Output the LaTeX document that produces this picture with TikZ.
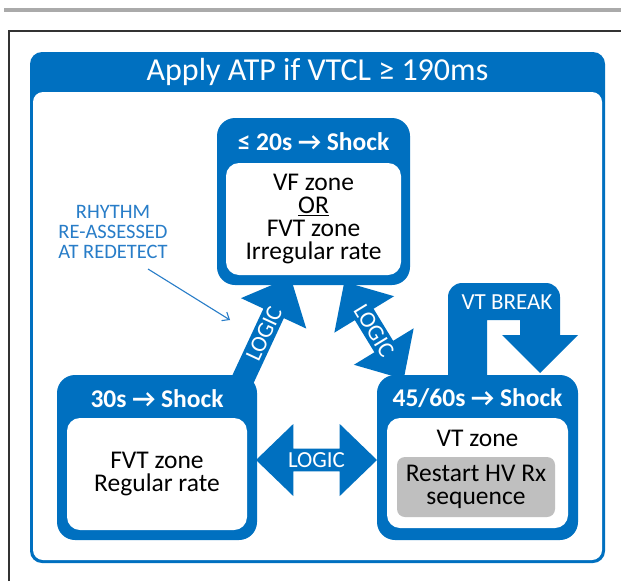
\documentclass[tikz,border=0pt]{standalone}
\usepackage{fontspec}
\setmainfont{Carlito}
\usetikzlibrary{arrows.meta, positioning, shapes.arrows, calc}

\definecolor{zoneblue}{RGB}{0,112,192}
\definecolor{noteblue}{RGB}{40,125,200}
\definecolor{restartgrey}{RGB}{191,191,191}
\definecolor{rulegrey}{RGB}{170,170,170}
\definecolor{framegrey}{RGB}{51,51,51}

\newcommand{\titlesize}{\fontsize{32}{34}\selectfont}
\newcommand{\zonesize}{\fontsize{25.5}{23}\selectfont}
\newcommand{\headsize}{\fontsize{25.5}{26}\selectfont\bfseries}
\newcommand{\logicsize}{\fontsize{23}{24}\selectfont}
\newcommand{\notesize}{\fontsize{20.5}{20}\selectfont}

\tikzset{
	zoneframe/.style={fill=zoneblue, rounded corners=18pt},
	zonebody/.style={fill=white, rounded corners=13pt, align=center, font=\zonesize},
	zonehead/.style={text=white, font=\headsize},
	logicarrow/.style={fill=zoneblue, text=white, font=\logicsize, inner sep=0pt},
	notearrow/.style={noteblue, line width=1.1pt, -{Straight Barb[length=6pt,width=10pt]}}
}

\begin{document}
\begin{tikzpicture}[x=1pt, y=-1pt, every node/.style={inner sep=0pt}]

	\useasboundingbox (0,0) rectangle (621,581);

	% page rule and frame
	\fill[rulegrey] (4,8) rectangle (621,12);
	\draw[framegrey, line width=1.4pt] (9,581) |- (621,31);

	% outer panel with title band
	\fill[zoneblue, rounded corners=12pt] (30,52) rectangle (605,563);
	\fill[white, rounded corners=10pt] (33,92) rectangle (602,560);
	\node[text=white, font=\titlesize] (title) at (317.5,72) {Apply ATP if VTCL ≥ 190ms};

	% VT break loop
	\fill[zoneblue] (448,380) [rounded corners=14pt] -- (448,283) -- (560,283) [sharp corners] -- (560,335)
		-- (578,335) -- (540,373) -- (502,335) -- (520,335) -- (520,320) -- (487,320) -- (487,380) -- cycle;
	\node[text=white, font=\logicsize] (vtbreak) at (507,302) {VT BREAK};

	% logic arrows
	\node[logicarrow, single arrow, minimum height=113pt, minimum width=72pt,
		single arrow head extend=17pt, single arrow tip angle=84, rotate=65] (logicup) at (264,334) {LOGIC};
	\node[logicarrow, double arrow, minimum height=114pt, minimum width=70pt,
		double arrow head extend=17pt, double arrow tip angle=85, rotate=-58.6] (logicdiag) at (374,330.5) {LOGIC};
	\node[logicarrow, double arrow, minimum height=121pt, minimum width=72pt,
		double arrow head extend=17pt, double arrow tip angle=88] (logicside) at (316.5,460) {LOGIC};

	% zones
	\node[zoneframe, minimum width=193pt, minimum height=167pt] (vfframe) at (313.5,201.5) {};
	\node[zonebody, minimum width=175pt, minimum height=112pt] (vfbody) at (313.5,219)
		{VF zone\\\underline{OR}\\FVT zone\\Irregular rate};
	\node[zonehead] (vfhead) at (313.5,142) {≤ 20s → Shock};

	\node[zoneframe, minimum width=200pt, minimum height=165pt] (fvtframe) at (157,457.5) {};
	\node[zonebody, minimum width=180pt, minimum height=112pt] (fvtbody) at (157,474)
		{FVT zone\\Regular rate};
	\node[zonehead] (fvthead) at (157,399) {30s → Shock};

	\node[zoneframe, minimum width=201pt, minimum height=165pt] (vtframe) at (477.5,457.5) {};
	\node[zonebody, minimum width=181pt, minimum height=110pt] (vtbody) at (477.5,473) {};
	\node[zonehead] (vthead) at (477.5,398) {45/60s → Shock};
	\node[font=\zonesize] (vtzone) at (477.5,438) {VT zone};
	\node[fill=restartgrey, rounded corners=8pt, minimum width=158pt, minimum height=60pt,
		align=center, font=\zonesize] (restart) at (476,487) {Restart HV Rx\\sequence};

	% redetect note
	\node[text=noteblue, font=\notesize, align=center] (rhythm) at (113,232)
		{RHYTHM\\RE-ASSESSED\\AT REDETECT};
	\coordinate (notetail) at (148,269);
	\coordinate (notehit) at (230,320);
	\draw[notearrow] (notetail) -- (notehit);

\end{tikzpicture}
\end{document}
